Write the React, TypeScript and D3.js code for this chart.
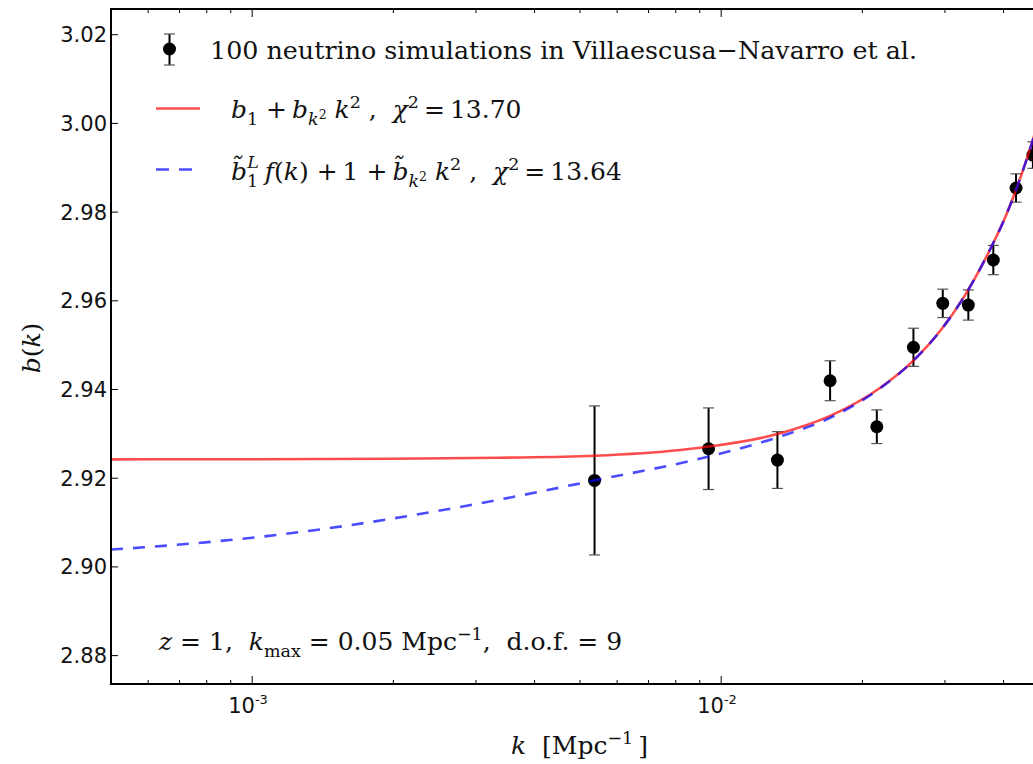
import React from 'react';
import * as d3 from 'd3';

const W = 1033;
const H = 764;
const PLOT = { left: 111, top: 9, right: 1049, bottom: 684 };

const kDomain = [5e-4, 0.05];
const bDomain = [2.8736, 3.0258];
const yTicks = [2.88, 2.9, 2.92, 2.94, 2.96, 2.98, 3.0, 3.02];
const xMajorTicks = [1e-3, 1e-2];
const xTickExponents = ['-3', '-2'];

// simulation points
const dataK = [0.00537, 0.0094, 0.01318, 0.01707, 0.02147, 0.0257, 0.02968, 0.03365, 0.03804, 0.04253, 0.0462];
const dataB = [2.9195, 2.92665, 2.9241, 2.94198, 2.93161, 2.94952, 2.95943, 2.95905, 2.9692, 2.98544, 2.99287];
const dataErr = [0.0168, 0.0092, 0.0064, 0.0045, 0.0038, 0.0043, 0.0032, 0.0034, 0.0033, 0.0032, 0.003];

// fit 1 (red, solid)
const redK = [0.0005, 0.001, 0.002, 0.00337, 0.00537, 0.00818, 0.00902, 0.01336, 0.01707, 0.02184, 0.02569, 0.0296, 0.03277, 0.037, 0.04065, 0.0462, 0.05];
const redB = [2.92426, 2.92428, 2.92438, 2.92462, 2.92507, 2.92636, 2.92688, 2.93012, 2.93405, 2.9404, 2.9465, 2.9538, 2.9605, 2.9705, 2.9797, 2.9963, 3.0088];

// fit 2 (blue, dashed)
const blueK = [0.0005, 0.000588, 0.000817, 0.001135, 0.00157, 0.002181, 0.003375, 0.005356, 0.009374, 0.013344, 0.01706, 0.02184, 0.02569, 0.0296, 0.03277, 0.037, 0.04065, 0.0462, 0.05];
const blueB = [2.90392, 2.90442, 2.90566, 2.90724, 2.90922, 2.91159, 2.9152, 2.91948, 2.92485, 2.9294, 2.9336, 2.9403, 2.9465, 2.9538, 2.9605, 2.9705, 2.9797, 2.9963, 3.0088];

const RED = 'rgba(255,0,0,0.7)';
const BLUE = 'rgba(0,0,255,0.7)';
const SERIF = '"DejaVu Serif", serif';
const SANS = '"DejaVu Sans", sans-serif';

type Seg = { t: string; it?: boolean; sh?: number; fs?: number; dx?: number };

function MathText(props: { x: number; y: number; segs: Seg[]; size: number; anchor?: string; transform?: string }) {
  const { x, y, segs, size, anchor, transform } = props;
  let cur = 0;
  return (
    <text x={x} y={y} fontSize={size} fontFamily={SERIF} textAnchor={anchor || 'start'} transform={transform} fill="#111" style={{ whiteSpace: 'pre' }}>
      {segs.map((s, i) => {
        const sh = (s.sh ?? 0) * size;
        const dy = sh - cur;
        cur = sh;
        return (
          <tspan key={i} dy={dy} dx={s.dx ?? 0} fontStyle={s.it ? 'italic' : 'normal'} fontSize={(s.fs ?? 1) * size}>
            {s.t}
          </tspan>
        );
      })}
    </text>
  );
}

const SUB = 0.28;
const SUP = -0.42;
const SF = 0.7;
const TS = '\u2009';

const legendLine2: Seg[] = [
  { t: 'b', it: true },
  { t: '1', sh: SUB, fs: SF },
  { t: ' +' + TS },
  { t: 'b', it: true },
  { t: 'k', it: true, sh: SUB, fs: SF },
  { t: '2', sh: 0.02, fs: 0.5 },
  { t: ' ' },
  { t: 'k', it: true },
  { t: '2', sh: SUP, fs: SF },
  { t: ' ,  ' },
  { t: 'χ', it: true },
  { t: '2', sh: SUP, fs: SF },
  { t: TS + '=' + TS + '13.70' },
];

const legendLine3: Seg[] = [
  { t: 'b\u0303', it: true },
  { t: '1', sh: SUB, fs: SF },
  { t: 'L', it: true, sh: -0.5, fs: SF, dx: -11 },
  { t: 'f', it: true, dx: 6 },
  { t: '(' },
  { t: 'k', it: true },
  { t: ') +' + TS + '1 +' + TS },
  { t: 'b\u0303', it: true },
  { t: 'k', it: true, sh: SUB, fs: SF },
  { t: '2', sh: 0.02, fs: 0.5 },
  { t: ' ' },
  { t: 'k', it: true },
  { t: '2', sh: SUP, fs: SF },
  { t: ' ,  ' },
  { t: 'χ', it: true },
  { t: '2', sh: SUP, fs: SF },
  { t: TS + '=' + TS + '13.64' },
];

const annotation: Seg[] = [
  { t: 'z', it: true },
  { t: ' = 1,  ' },
  { t: 'k', it: true },
  { t: 'max', sh: SUB, fs: SF },
  { t: ' = 0.05 Mpc' },
  { t: '−1', sh: SUP, fs: SF },
  { t: ',  d.o.f. = 9' },
];

const xLabel: Seg[] = [
  { t: 'k', it: true },
  { t: '  [Mpc' },
  { t: '−1', sh: SUP, fs: SF },
  { t: TS + ']' },
];

const yLabel: Seg[] = [{ t: 'b', it: true }, { t: '(' }, { t: 'k', it: true }, { t: ')' }];

export default function App() {
  const x = d3.scaleLog().domain(kDomain).range([PLOT.left, PLOT.right]);
  const y = d3.scaleLinear().domain(bDomain).range([PLOT.bottom, PLOT.top]);

  const line = d3
    .line<[number, number]>()
    .x((d) => x(d[0]))
    .y((d) => y(d[1]))
    .curve(d3.curveMonotoneX);

  const redPath = line(redK.map((k, i) => [k, redB[i]] as [number, number])) || '';
  const bluePath = line(blueK.map((k, i) => [k, blueB[i]] as [number, number])) || '';

  const minorTicks = x.ticks().filter((t) => !xMajorTicks.some((m) => Math.abs(m - t) / m < 1e-6));

  const capW = 5.5;

  return (
    <svg width={W} height={H} style={{ position: 'absolute', left: 0, top: 0, background: '#fff' }}>
      <rect x={0} y={0} width={W} height={H} fill="#fff" />
      <defs>
        <clipPath id="plotclip">
          <rect x={PLOT.left} y={PLOT.top} width={PLOT.right - PLOT.left} height={PLOT.bottom - PLOT.top} />
        </clipPath>
      </defs>

      {/* data points */}
      <g clipPath="url(#plotclip)">
        {dataK.map((k, i) => {
          const cx = x(k);
          const y0 = y(dataB[i] + dataErr[i]);
          const y1 = y(dataB[i] - dataErr[i]);
          return (
            <g key={i}>
              <line x1={cx} x2={cx} y1={y0} y2={y1} stroke="#000" strokeWidth={2} />
              <line x1={cx - capW} x2={cx + capW} y1={y0} y2={y0} stroke="#555" strokeWidth={1.2} />
              <line x1={cx - capW} x2={cx + capW} y1={y1} y2={y1} stroke="#555" strokeWidth={1.2} />
              <circle cx={cx} cy={y(dataB[i])} r={6.5} fill="#000" />
            </g>
          );
        })}
        <path d={redPath} fill="none" stroke={RED} strokeWidth={2.6} />
        <path d={bluePath} fill="none" stroke={BLUE} strokeWidth={2.6} strokeDasharray="12 10" />
      </g>

      {/* spines */}
      <rect x={PLOT.left} y={PLOT.top} width={PLOT.right - PLOT.left} height={PLOT.bottom - PLOT.top} fill="none" stroke="#000" strokeWidth={2} />

      {/* y ticks */}
      {yTicks.map((t) => (
        <g key={t}>
          <line x1={PLOT.left} x2={PLOT.left + 7} y1={y(t)} y2={y(t)} stroke="#000" strokeWidth={1} />
          <line x1={PLOT.right} x2={PLOT.right - 7} y1={y(t)} y2={y(t)} stroke="#000" strokeWidth={1} />
          <text x={PLOT.left - 4} y={y(t) + 7.5} textAnchor="end" fontFamily={SANS} fontSize={21} fill="#111">
            {d3.format('.2f')(t)}
          </text>
        </g>
      ))}

      {/* x ticks */}
      {xMajorTicks.map((t, i) => (
        <g key={t}>
          <line x1={x(t)} x2={x(t)} y1={PLOT.bottom} y2={PLOT.bottom - 8} stroke="#000" strokeWidth={1} />
          <line x1={x(t)} x2={x(t)} y1={PLOT.top} y2={PLOT.top + 8} stroke="#000" strokeWidth={1} />
          <text x={x(t) - 24} y={713} fontFamily={SANS} fontSize={21} fill="#111">
            10
            <tspan dy={-9} fontSize={13}>
              {xTickExponents[i]}
            </tspan>
          </text>
        </g>
      ))}
      {minorTicks.map((t) => (
        <g key={'m' + t}>
          <line x1={x(t)} x2={x(t)} y1={PLOT.bottom} y2={PLOT.bottom - 4} stroke="#000" strokeWidth={1} />
          <line x1={x(t)} x2={x(t)} y1={PLOT.top} y2={PLOT.top + 4} stroke="#000" strokeWidth={1} />
        </g>
      ))}

      {/* axis labels */}
      <MathText x={511} y={754} segs={xLabel} size={25} />
      <MathText x={0} y={0} segs={yLabel} size={25} anchor="middle" transform="translate(40,348) rotate(-90)" />

      {/* legend */}
      <g>
        <line x1={169.5} x2={169.5} y1={34} y2={65} stroke="#000" strokeWidth={2} />
        <line x1={164} x2={175} y1={34} y2={34} stroke="#555" strokeWidth={1.2} />
        <line x1={164} x2={175} y1={65} y2={65} stroke="#555" strokeWidth={1.2} />
        <circle cx={169.5} cy={49} r={6.5} fill="#000" />
        <text x={210} y={59} fontFamily={SERIF} fontSize={25} fill="#111" textLength={707} lengthAdjust="spacingAndGlyphs" style={{ whiteSpace: 'pre' }}>
          100 neutrino simulations in Villaescusa−Navarro et al.
        </text>

        <line x1={156} x2={200} y1={108.5} y2={108.5} stroke={RED} strokeWidth={2.6} />
        <MathText x={231} y={118} segs={legendLine2} size={25} />

        <line x1={156} x2={200} y1={169.5} y2={169.5} stroke={BLUE} strokeWidth={2.6} strokeDasharray="13 10" />
        <MathText x={231} y={180} segs={legendLine3} size={25} />
      </g>

      {/* annotation */}
      <MathText x={159} y={650} segs={annotation} size={25} />
    </svg>
  );
}
